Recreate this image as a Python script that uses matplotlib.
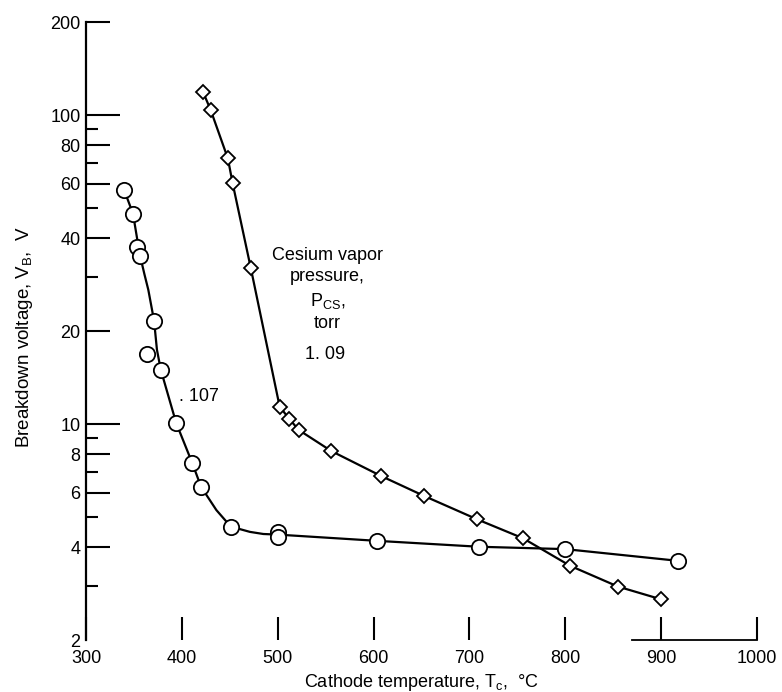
import matplotlib
matplotlib.use("Agg")
import matplotlib.pyplot as plt

plt.rcParams['font.family'] = ['Liberation Sans', 'DejaVu Sans']
plt.rcParams['mathtext.fontset'] = 'custom'
plt.rcParams['mathtext.rm'] = 'Liberation Sans'
plt.rcParams['mathtext.default'] = 'regular'

# P_cs = 0.107 torr (circles)
circ_x = [340, 349, 353, 356, 364, 371, 378, 394, 411, 420, 451, 500, 500, 604, 710, 800, 918]
circ_y = [57.2, 48, 37.5, 35, 16.9, 21.6, 15, 10.1, 7.46, 6.27, 4.66, 4.48, 4.30, 4.19, 4.01, 3.94, 3.61]
# faired curve
circ_curve_x = [340, 349, 356, 361, 365, 371, 374, 378, 394, 411, 420, 436, 451, 471, 485, 500, 604, 710, 800, 918]
circ_curve_y = [57, 48, 35.5, 30.5, 27.2, 21.6, 17.4, 15.0, 10.1, 7.46, 6.27, 5.27, 4.66, 4.48, 4.41, 4.39, 4.19, 4.01, 3.94, 3.61]

# P_cs = 1.09 torr (diamonds)
dia_x = [422, 430, 448, 453, 472, 502, 512, 522, 556, 608, 653, 708, 756, 805, 855, 900]
dia_y = [119, 104, 72.4, 60.1, 31.9, 11.4, 10.4, 9.57, 8.18, 6.79, 5.85, 4.92, 4.27, 3.48, 2.98, 2.71]

x_ticks = [300, 400, 500, 600, 700, 800, 900, 1000]
y_major = [2, 4, 6, 8, 10, 20, 40, 60, 80, 100, 200]
y_minor = [3, 5, 7, 9, 30, 50, 70, 90]

fig = plt.figure(figsize=(7.82, 6.92), dpi=100)
ax = fig.add_axes([0.110, 0.075, 0.858, 0.893])

ax.plot(circ_curve_x, circ_curve_y, color='black', lw=1.6, zorder=2)
ax.plot(circ_x, circ_y, 'o', ms=11, mfc='white', mec='black', mew=1.3, zorder=3, clip_on=False)
ax.plot(dia_x, dia_y, color='black', lw=1.6, zorder=2)
ax.plot(dia_x, dia_y, 'D', ms=7.3, mfc='white', mec='black', mew=1.3, zorder=3, clip_on=False)

ax.set_yscale('log')
ax.set_xlim(300, 1000)
ax.set_ylim(2, 200)

ax.set_xticks(x_ticks)
ax.set_xticklabels([str(v) for v in x_ticks])
ax.set_yticks(y_major)
ax.set_yticklabels([str(v) for v in y_major])
ax.set_yticks(y_minor, minor=True)
ax.yaxis.set_minor_formatter(matplotlib.ticker.NullFormatter())
ax.xaxis.set_minor_locator(matplotlib.ticker.NullLocator())

ax.tick_params(axis='both', which='both', direction='in', width=1.5, colors='black', labelsize=13)
ax.tick_params(axis='y', which='major', length=17, pad=4)
ax.tick_params(axis='y', which='minor', length=8.5)
ax.tick_params(axis='x', which='major', length=16.5, pad=7)

for t in ax.yaxis.get_major_ticks():
    loc = t.get_loc()
    if loc in (10, 100):
        t.tick1line.set_markersize(24.5)
    elif loc == 2:
        t.tick1line.set_markersize(0)

for s in ('top', 'right'):
    ax.spines[s].set_visible(False)
ax.spines['left'].set_linewidth(1.6)
ax.spines['bottom'].set_linewidth(1.3)
ax.spines['bottom'].set_bounds(870, 1000)

ax.set_xlabel('Cathode temperature, $T_c$,  °C', fontsize=13)
ax.xaxis.set_label_coords(0.5, -0.052)
ax.set_ylabel('Breakdown voltage, $V_B$,  V', fontsize=13.5)
ax.yaxis.set_label_coords(-0.076, 0.49)

ax.text(397, 12.3, '. 107', fontsize=13, ha='left', va='center')
ax.text(552, 37.5, 'Cesium vapor\npressure,\n$P_{CS}$,\ntorr', fontsize=13,
        ha='center', va='top', linespacing=1.35)
ax.text(549, 16.8, '1. 09', fontsize=13, ha='center', va='center')

fig.savefig('out.png', dpi=100)
